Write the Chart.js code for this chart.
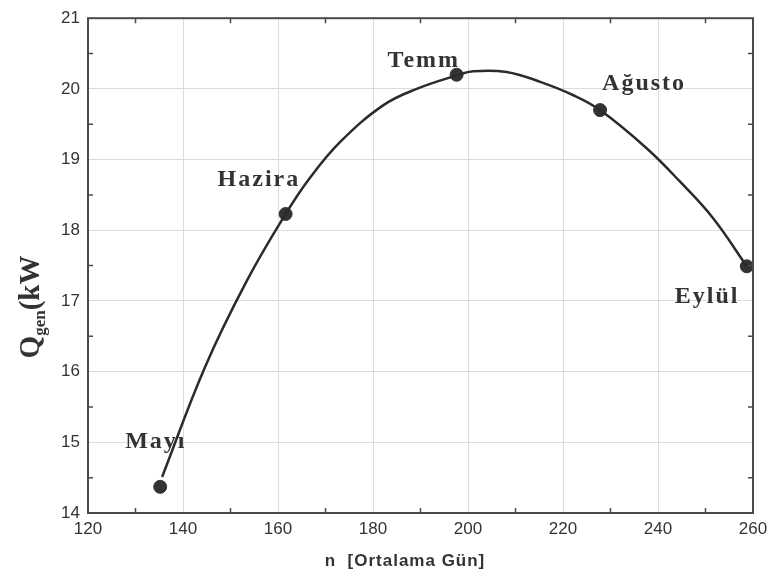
<!DOCTYPE html>
<html>
<head>
<meta charset="utf-8">
<script src="https://cdn.jsdelivr.net/npm/chart.js@4/dist/chart.umd.min.js"></script>
<style>
  html, body { margin: 0; padding: 0; background: #fff; }
  #wrap { width: 774px; height: 578px; }
</style>
</head>
<body>
<div id="wrap"><canvas id="chart"></canvas></div>
<script>
// monthly points (average day n, generated heat kW)
const monthNames = ['Mayı', 'Hazira', 'Temm', 'Ağusto', 'Eylül'];
const monthDay = [135.2, 161.6, 197.6, 227.8, 258.7];
const monthQ = [14.37, 18.23, 20.20, 19.70, 17.49];

// fitted curve
const curveDay = [135.6, 144.6, 153.4, 161.6, 166.7, 173.1, 182.2, 189.2, 197.6, 201.1, 208.1, 215.2, 222.2, 227.8, 237.6, 244.6, 251.6, 258.7];
const curveQ = [14.51, 16.06, 17.28, 18.23, 18.74, 19.25, 19.77, 20.00, 20.19, 20.25, 20.24, 20.10, 19.91, 19.70, 19.16, 18.69, 18.17, 17.49];

const xTicks = [120, 140, 160, 180, 200, 220, 240, 260];
const yTicks = [14, 15, 16, 17, 18, 19, 20, 21];

// label offsets from each marker (left, baseline) in px
const labelOffsets = [[-35, -39], [-68, -28], [-69, -8], [2, -20], [-72, 37]];

const ink = '#2b2b2b';

const extrasPlugin = {
    id: 'extras',
    afterDraw(chart) {
        const ctx = chart.ctx;
        const xs = chart.scales.x;
        const ys = chart.scales.y;
        const area = chart.chartArea;

        ctx.save();
        // frame
        ctx.strokeStyle = '#4a4a4a';
        ctx.lineWidth = 2;
        ctx.strokeRect(area.left, area.top, area.right - area.left, area.bottom - area.top);

        // small inward tick marks
        ctx.lineWidth = 1.5;
        for (let v = 130; v < 260; v += 20) {
            const px = xs.getPixelForValue(v);
            ctx.beginPath();
            ctx.moveTo(px, area.bottom); ctx.lineTo(px, area.bottom - 5);
            ctx.moveTo(px, area.top); ctx.lineTo(px, area.top + 5);
            ctx.stroke();
        }
        for (let v = 14.5; v < 21; v += 1) {
            const py = ys.getPixelForValue(v);
            ctx.beginPath();
            ctx.moveTo(area.left, py); ctx.lineTo(area.left + 5, py);
            ctx.moveTo(area.right, py); ctx.lineTo(area.right - 5, py);
            ctx.stroke();
        }

        // month labels
        ctx.fillStyle = '#333';
        ctx.font = 'bold 24px "Liberation Serif", "DejaVu Serif", serif';
        ctx.letterSpacing = '2px';
        ctx.textAlign = 'left';
        ctx.textBaseline = 'alphabetic';
        monthNames.forEach((name, i) => {
            const px = xs.getPixelForValue(monthDay[i]);
            const py = ys.getPixelForValue(monthQ[i]);
            ctx.fillText(name, px + labelOffsets[i][0], py + labelOffsets[i][1]);
        });

        // x title
        ctx.font = 'bold 17px "Liberation Sans", Arial, sans-serif';
        ctx.letterSpacing = '1px';
        ctx.textAlign = 'center';
        ctx.fillText('n  [Ortalama Gün]', 405, 566);
        ctx.letterSpacing = '0px';

        // y title with subscript
        ctx.translate(30, 307);
        ctx.rotate(-Math.PI / 2);
        ctx.textAlign = 'left';
        const big = 'bold 29px "Liberation Serif", "DejaVu Serif", serif';
        const small = 'bold 17px "Liberation Serif", "DejaVu Serif", serif';
        ctx.font = big;
        const wQ = ctx.measureText('Q').width;
        ctx.font = small;
        const wSub = ctx.measureText('gen').width;
        ctx.font = big;
        const wRest = ctx.measureText('(kW').width;
        const x0 = -(wQ + wSub + wRest) / 2;
        ctx.fillText('Q', x0, 9);
        ctx.font = small;
        ctx.fillText('gen', x0 + wQ, 15);
        ctx.font = big;
        ctx.fillText('(kW', x0 + wQ + wSub, 9);

        ctx.restore();
    }
};

const ctx = document.getElementById('chart').getContext('2d');
new Chart(ctx, {
    type: 'scatter',
    data: {
        datasets: [{
            label: 'curve',
            data: curveDay.map((d, i) => ({ x: d, y: curveQ[i] })),
            showLine: true,
            borderColor: ink,
            borderWidth: 2.5,
            pointRadius: 0,
            tension: 0.4,
            fill: false
        }, {
            label: 'months',
            data: monthDay.map((d, i) => ({ x: d, y: monthQ[i] })),
            backgroundColor: '#333',
            borderColor: '#333',
            pointRadius: 6.5
        }]
    },
    options: {
        responsive: true,
        maintainAspectRatio: false,
        animation: false,
        layout: { padding: { top: 16, right: 21, left: 0, bottom: 0 } },
        plugins: {
            legend: { display: false },
            tooltip: { enabled: false }
        },
        scales: {
            x: {
                type: 'linear',
                min: 120,
                max: 260,
                afterBuildTicks: axis => { axis.ticks = xTicks.map(v => ({ value: v })); },
                afterFit: axis => { axis.height = 65; },
                grid: { color: '#dcdcdc', lineWidth: 1, drawTicks: false },
                border: { display: false },
                ticks: {
                    color: '#333',
                    padding: 6,
                    maxRotation: 0,
                    font: { family: '"Liberation Sans", Arial, sans-serif', size: 17 }
                }
            },
            y: {
                type: 'linear',
                min: 14,
                max: 21,
                afterBuildTicks: axis => { axis.ticks = yTicks.map(v => ({ value: v })); },
                afterFit: axis => { axis.width = 88; },
                grid: { color: '#dcdcdc', lineWidth: 1, drawTicks: false },
                border: { display: false },
                ticks: {
                    color: '#333',
                    padding: 8,
                    font: { family: '"Liberation Sans", Arial, sans-serif', size: 17 }
                }
            }
        }
    },
    plugins: [extrasPlugin]
});
</script>
</body>
</html>
